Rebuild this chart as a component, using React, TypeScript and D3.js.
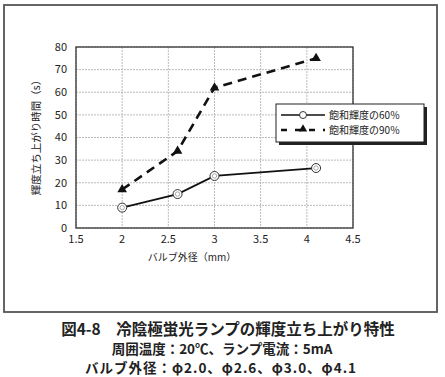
import React from "react";
import * as d3 from "d3";

const diameters = [2.0, 2.6, 3.0, 4.1];
const rise60 = [9, 15, 23, 26.5];
const rise90 = [17, 34, 62, 75];
const xTicks = [1.5, 2, 2.5, 3, 3.5, 4, 4.5];
const yTicks = [0, 10, 20, 30, 40, 50, 60, 70, 80];
const legendLabels = ["飽和輝度の60％", "飽和輝度の90％"];
const xTitle = "バルブ外径（mm）";
const yTitle = "輝度立ち上がり時間（s）";
const captions = [
  "図4-8　冷陰極蛍光ランプの輝度立ち上がり特性",
  "周囲温度：20℃、ランプ電流：5mA",
  "バルブ外径：φ2.0、φ2.6、φ3.0、φ4.1",
];

const W = 445, H = 377;
const left = 76, right = 353, top = 47, bottom = 228;
const font = "'Noto Sans CJK JP', 'Noto Sans', sans-serif";
const ink = "#222";

export default function App() {
  const x = d3.scaleLinear().domain([1.5, 4.5]).range([left, right]);
  const y = d3.scaleLinear().domain([0, 80]).range([bottom, top]);
  const line = d3.line<number>().x((_, i) => x(diameters[i])).y((d) => y(d));
  const tri = d3.symbol().type(d3.symbolTriangle).size(40);

  return (
    <svg width={W} height={H} style={{ position: "absolute", left: 0, top: 0, background: "#fff" }}>
      <rect x={4} y={5} width={433} height={307} fill="none" stroke="#555" strokeWidth={1.8} />
      {/* grid */}
      {xTicks.map((t) => (
        <line key={"gx" + t} x1={x(t)} x2={x(t)} y1={top} y2={bottom} stroke="#aaa" strokeWidth={0.8} strokeDasharray="2,1" />
      ))}
      {yTicks.map((t) => (
        <line key={"gy" + t} x1={left} x2={right} y1={y(t)} y2={y(t)} stroke="#aaa" strokeWidth={0.8} strokeDasharray="2,1" />
      ))}
      <rect x={left} y={top} width={right - left} height={bottom - top} fill="none" stroke="#333" strokeWidth={1.3} />
      {/* tick labels */}
      {yTicks.map((t) => (
        <text key={"ty" + t} x={left - 9} y={y(t)} dy="0.35em" textAnchor="end" fontSize={11} fill={ink} fontFamily={font}>
          {t}
        </text>
      ))}
      {xTicks.map((t) => (
        <text key={"tx" + t} x={x(t)} y={bottom + 11} dy="0.35em" textAnchor="middle" fontSize={11} fill={ink} fontFamily={font}>
          {t}
        </text>
      ))}
      <text x={192} y={257} dy="0.35em" textAnchor="middle" fontSize={10} fill={ink} fontFamily={font}>{xTitle}</text>
      <text transform={`translate(36,135) rotate(-90)`} textAnchor="middle" fontSize={10.5} fill={ink} fontFamily={font} dy="0.35em">
        {yTitle}
      </text>
      {/* series */}
      <path d={line(rise90) || ""} fill="none" stroke="#111" strokeWidth={2.6} strokeDasharray="9,6" />
      <path d={line(rise60) || ""} fill="none" stroke="#111" strokeWidth={1.8} />
      {rise90.map((v, i) => (
        <path key={"m90" + i} d={tri() || ""} transform={`translate(${x(diameters[i])},${y(v)})`} fill="#111" />
      ))}
      {rise60.map((v, i) => (
        <g key={"m60" + i}>
          <circle cx={x(diameters[i])} cy={y(v)} r={4.5} fill="#fff" stroke="#333" strokeWidth={1} />
          <circle cx={x(diameters[i])} cy={y(v)} r={2.2} fill="none" stroke="#777" strokeWidth={0.6} />
        </g>
      ))}
      {/* legend */}
      <rect x={279} y={107} width={148} height={38} fill="#222" />
      <rect x={276} y={104} width={148} height={38} fill="#fff" stroke="#222" strokeWidth={1} />
      <line x1={281} x2={325} y1={115} y2={115} stroke="#111" strokeWidth={1.5} />
      <circle cx={303} cy={115} r={3.5} fill="#fff" stroke="#333" strokeWidth={1} />
      <line x1={281} x2={325} y1={130} y2={130} stroke="#111" strokeWidth={2.4} strokeDasharray="6,8" />
      <path d={d3.symbol().type(d3.symbolTriangle).size(30)() || ""} transform="translate(303,129)" fill="#111" />
      {legendLabels.map((l, i) => (
        <text key={l} x={329} y={115 + i * 15} dy="0.35em" fontSize={10} fill={ink} fontFamily={font}>{l}</text>
      ))}
      {/* captions */}
      <text x={228} y={330} dy="0.35em" textAnchor="middle" fontSize={15.5} fontWeight="bold" fill={ink} fontFamily={font}>{captions[0]}</text>
      <text x={222} y={349} dy="0.35em" textAnchor="middle" fontSize={13.5} fontWeight="bold" fill={ink} fontFamily={font}>{captions[1]}</text>
      <text x={221} y={368} dy="0.35em" textAnchor="middle" fontSize={13.5} fontWeight="bold" letterSpacing={1} fill={ink} fontFamily={font}>{captions[2]}</text>
    </svg>
  );
}
